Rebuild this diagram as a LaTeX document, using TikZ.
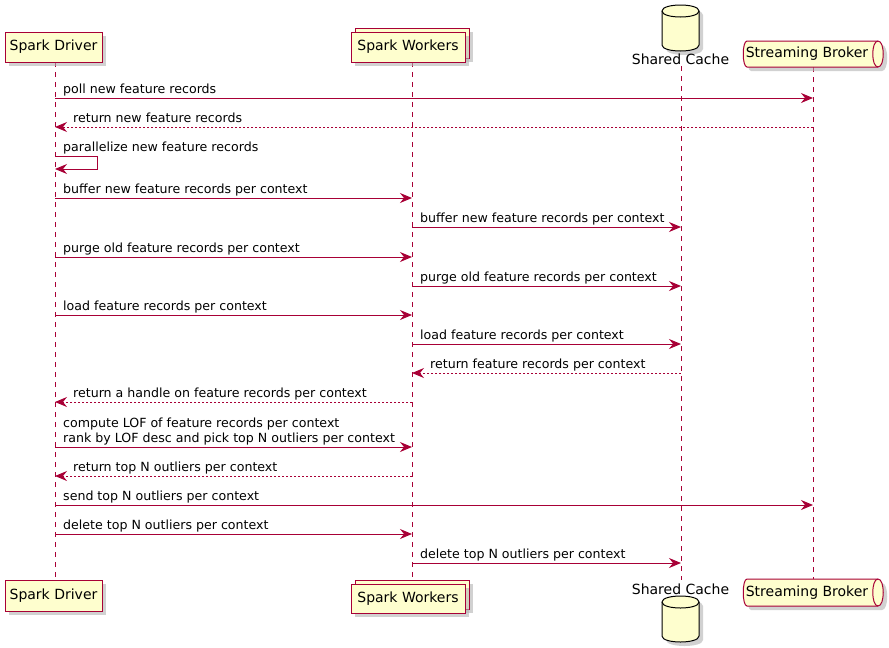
\documentclass[tikz,border=0pt]{standalone}
\usepackage{fontspec}
\setmainfont{DejaVu Sans}
\usetikzlibrary{arrows.meta,shadows}
\definecolor{pline}{HTML}{A80036}
\definecolor{pfill}{HTML}{FEFECE}
\tikzset{
  part/.style={draw=pline, fill=pfill, line width=1pt},
  dbpart/.style={draw=black, fill=pfill, line width=1pt},
  shad/.style={fill=black!30, opacity=0.6, draw=none},
  ptext/.style={font=\fontsize{14}{16}\selectfont, inner sep=0pt, text=black},
  mtext/.style={font=\fontsize{12.6}{15}\selectfont, inner sep=0pt, anchor=base west, text=black},
  life/.style={draw=pline, line width=1pt, dash pattern=on 5pt off 5pt},
  msg/.style={draw=pline, line width=1pt, -{Stealth[length=12pt,width=10pt,inset=4pt]}},
  ret/.style={msg, dash pattern=on 2pt off 2pt},
}
\begin{document}
\begin{tikzpicture}[x=1pt,y=-1pt]
\useasboundingbox (0,0) rectangle (889,648);
% lifeline coordinates
\coordinate (dT) at (55,62);  \coordinate (dB) at (55,580);
\coordinate (wT) at (412,62); \coordinate (wB) at (412,584);
\coordinate (cT) at (681,66); \coordinate (cB) at (681,580);
\coordinate (bT) at (813,67); \coordinate (bB) at (813,579);
\draw[life] (dT) -- (dB);
\draw[life] (wT) -- (wB);
\draw[life] (cT) -- (cB);
\draw[life] (bT) -- (bB);

% ---- Spark Driver (top, bottom)
\fill[shad] (9,36) rectangle (106,66);
\draw[part] (5,32) rectangle (102,62);
\node[ptext] (drvT) at (53.5,47) {Spark Driver};
\fill[shad] (9,584) rectangle (106,615);
\draw[part] (5,580) rectangle (102,611);
\node[ptext] (drvB) at (53.5,595.5) {Spark Driver};

% ---- Spark Workers
\fill[shad] (359,32) rectangle (473,62);
\draw[part] (355,28) rectangle (469,58);
\fill[shad] (355,36) rectangle (469,66);
\draw[part] (351,32) rectangle (465,62);
\node[ptext] (wrkT) at (408,47) {Spark Workers};
\fill[shad] (359,584) rectangle (473,613);
\draw[part] (355,580) rectangle (469,609);
\fill[shad] (355,588) rectangle (469,617);
\draw[part] (351,584) rectangle (465,613);
\node[ptext] (wrkB) at (408,598.5) {Spark Workers};

% ---- Shared Cache (cylinders)
\fill[shad] (666,15) -- (666,49) .. controls (666,57) and (703,57) .. (703,49) -- (703,15) .. controls (703,7) and (666,7) .. (666,15) -- cycle;
\filldraw[dbpart] (662,11) -- (662,45) .. controls (662,53) and (699,53) .. (699,45) -- (699,11) .. controls (699,3) and (662,3) .. (662,11) -- cycle;
\draw[dbpart, fill=none] (662,11) .. controls (662,19) and (699,19) .. (699,11);
\node[ptext] (cacT) at (680.5,59) {Shared Cache};
\fill[shad] (666,606) -- (666,640) .. controls (666,648) and (703,648) .. (703,640) -- (703,606) .. controls (703,598) and (666,598) .. (666,606) -- cycle;
\filldraw[dbpart] (662,602) -- (662,636) .. controls (662,644) and (699,644) .. (699,636) -- (699,602) .. controls (699,594) and (662,594) .. (662,602) -- cycle;
\draw[dbpart, fill=none] (662,602) .. controls (662,610) and (699,610) .. (699,602);
\node[ptext] (cacB) at (680.5,589) {Shared Cache};

% ---- Streaming Broker (queue)
\fill[shad] (751,45) -- (882,45) .. controls (889,45) and (889,71) .. (882,71) -- (751,71) .. controls (746,71) and (746,45) .. (751,45) -- cycle;
\filldraw[part] (747,41) -- (878,41) .. controls (885,41) and (885,67) .. (878,67) -- (747,67) .. controls (742,67) and (742,41) .. (747,41) -- cycle;
\draw[part, fill=none] (878,41) .. controls (871,41) and (871,67) .. (878,67);
\node[ptext] (brkT) at (807,54) {Streaming Broker};
\fill[shad] (751,583) -- (882,583) .. controls (889,583) and (889,610) .. (882,610) -- (751,610) .. controls (746,610) and (746,583) .. (751,583) -- cycle;
\filldraw[part] (747,579) -- (878,579) .. controls (885,579) and (885,606) .. (878,606) -- (747,606) .. controls (742,606) and (742,579) .. (747,579) -- cycle;
\draw[part, fill=none] (878,579) .. controls (871,579) and (871,606) .. (878,606);
\node[ptext] (brkB) at (807,592.5) {Streaming Broker};

% ---- messages
\newcommand{\fwd}[4]{% x1, x2, y, text
  \coordinate (s) at (#1,#3); \coordinate (e) at (#2,#3);
  \draw[msg] (s) -- (e);
  \node[mtext] at (#1+8,#3-5) {#4};}
\newcommand{\bwd}[4]{% from x1 (right) to x2 (left)
  \coordinate (s) at (#1,#3); \coordinate (e) at (#2,#3);
  \draw[ret] (s) -- (e);
  \node[mtext] at (#2+18,#3-5) {#4};}

\fwd{55}{813}{98}{poll new feature records}
\bwd{813}{55}{127}{return new feature records}
\node[mtext] (m3) at (63,151.5) {parallelize new feature records};
\coordinate (sl1) at (55,156); \coordinate (sl2) at (97,156);
\coordinate (sl3) at (97,169); \coordinate (sl4) at (55,169);
\draw[msg] (sl1) -- (sl2) -- (sl3) -- (sl4);
\fwd{55}{412}{198}{buffer new feature records per context}
\fwd{412}{681}{227}{buffer new feature records per context}
\fwd{55}{412}{257}{purge old feature records per context}
\fwd{412}{681}{286}{purge old feature records per context}
\fwd{55}{412}{315}{load feature records per context}
\fwd{412}{681}{344}{load feature records per context}
\bwd{681}{412}{373}{return feature records per context}
\bwd{412}{55}{402}{return a handle on feature records per context}
\node[mtext] (m12a) at (63,427) {compute LOF of feature records per context};
\fwd{55}{412}{447}{rank by LOF desc and pick top N outliers per context}
\bwd{412}{55}{476}{return top N outliers per context}
\fwd{55}{813}{505}{send top N outliers per context}
\fwd{55}{412}{534}{delete top N outliers per context}
\fwd{412}{681}{563}{delete top N outliers per context}
\end{tikzpicture}
\end{document}
